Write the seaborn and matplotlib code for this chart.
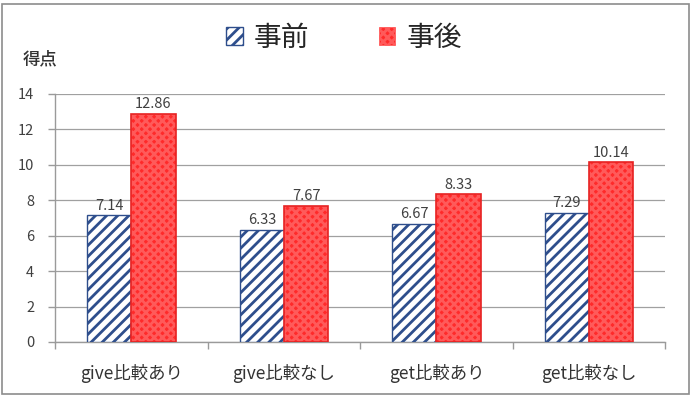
import matplotlib
matplotlib.use("Agg")
import matplotlib.pyplot as plt
import seaborn as sns
import pandas as pd
from matplotlib.patches import Patch, Rectangle
from matplotlib.ticker import FixedLocator

categories = ["give比較あり", "give比較なし", "get比較あり", "get比較なし"]
series_names = ["事前", "事後"]
pre_values = [7.14, 6.33, 6.67, 7.29]
post_values = [12.86, 7.67, 8.33, 10.14]
y_ticks = [0, 2, 4, 6, 8, 10, 12, 14]

sns.set_theme(style="white")
plt.rcParams['font.family'] = ['Noto Sans CJK JP', 'DejaVu Sans']
plt.rcParams['hatch.linewidth'] = 2.0

df = pd.DataFrame({
    "category": categories * 2,
    "series": [series_names[0]] * len(categories) + [series_names[1]] * len(categories),
    "value": pre_values + post_values,
})

fig = plt.figure(figsize=(6.92, 4.12), dpi=100)
ax = fig.add_axes([0.0795, 0.17, 0.882, 0.602])

sns.barplot(data=df, x="category", y="value", hue="series", order=categories,
            hue_order=series_names, width=0.58, palette=["white", "#FF3535"],
            errorbar=None, ax=ax, legend=False, saturation=1)

styles = [
    dict(facecolor="white", edgecolor="#2E4E8C", hatch="///", lw=1.0),
    dict(facecolor="#FF2A2A", edgecolor="#FF5A5A", hatch="xxxx", lw=0.0),
]
for cont, st in zip(ax.containers, styles):
    for bar in cont:
        bar.set_facecolor(st["facecolor"])
        bar.set_edgecolor(st["edgecolor"])
        bar.set_hatch(st["hatch"])
        bar.set_linewidth(st["lw"])
        bar.set_zorder(3)
    ax.bar_label(cont, fmt="%.2f", padding=2, fontsize=10.5, color="#404040")

# red borders
for bar in ax.containers[1]:
    x, y = bar.get_xy()
    ax.add_patch(Rectangle((x, y), bar.get_width(), bar.get_height(),
                           fill=False, edgecolor="#E62222", lw=1.2, zorder=4))

ax.set_ylim(0, 14)
ax.set_xlim(-0.5, 3.5)
ax.set_yticks(y_ticks)
ax.set_yticklabels([str(t) for t in y_ticks], fontsize=10.5, color="#404040")
ax.set_xticklabels(categories, fontsize=12.5, color="#333333")
ax.set_xlabel("")
ax.set_ylabel("")
ax.yaxis.grid(True, color="#A0A0A0", lw=0.9, zorder=0)
ax.set_axisbelow(True)

for side in ["top", "right"]:
    ax.spines[side].set_visible(False)
for side in ["left", "bottom"]:
    ax.spines[side].set_color("#9A9A9A")
    ax.spines[side].set_linewidth(1.0)

ax.tick_params(axis="y", which="major", direction="out", length=5, color="#9A9A9A",
               width=1, left=True, pad=10)
ax.tick_params(axis="x", which="major", length=0, pad=16)
ax.xaxis.set_minor_locator(FixedLocator([-0.5, 0.5, 1.5, 2.5, 3.5]))
ax.tick_params(axis="x", which="minor", direction="out", length=5, color="#9A9A9A",
               width=1, bottom=True)

handles = [
    Patch(facecolor="white", edgecolor="#2E4E8C", hatch="///", lw=1.0),
    Patch(facecolor="#FF2A2A", edgecolor="#FF5A5A", hatch="xxxx", lw=0.5),
]
fig.legend(handles, series_names, loc="center", bbox_to_anchor=(0.497, 0.908),
           ncol=2, frameon=False, fontsize=20, handlelength=0.6, handleheight=0.6,
           columnspacing=2.5, handletextpad=0.4)

fig.text(0.058, 0.855, "得点", ha="center", va="center", fontsize=12.5,
         color="#333333", weight="medium")

border = Rectangle((0.003, 0.044), 0.993, 0.947, transform=fig.transFigure,
                   fill=False, edgecolor="#8C8C8C", lw=1.2)
fig.patches.append(border)

fig.savefig("out.png", dpi=100)
